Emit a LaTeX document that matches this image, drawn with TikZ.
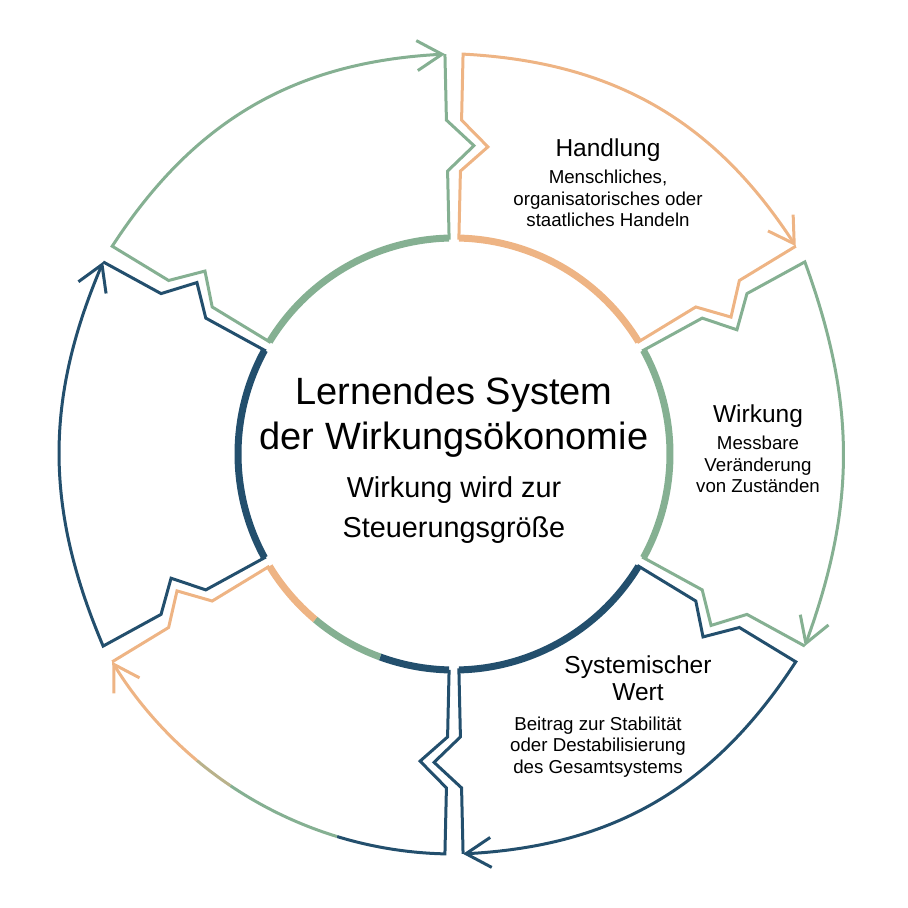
\documentclass[tikz,border=0pt]{standalone}
\usepackage{fontspec}
\setmainfont{Liberation Sans}
\usetikzlibrary{arrows.meta}
\definecolor{wgreen}{RGB}{133,176,146}
\definecolor{worange}{RGB}{238,180,132}
\definecolor{wblue}{RGB}{35,79,109}

\begin{document}
\begin{tikzpicture}[x=0.5pt,y=0.5pt,line join=miter,
  outline/.style={line width=1.5pt},
  ring/.style={line width=3.5pt},
  tip/.style={-{Straight Barb[length=12.5pt,width=15pt]}},
  headtext/.style={font=\fontsize{12.25}{13.5}\selectfont,align=center,anchor=base},
  desctext/.style={font=\fontsize{9.35}{10.75}\selectfont,align=center,anchor=base}]
\useasboundingbox (-454,-454) rectangle (454,454);
\def\rin{216}
\def\rout{400}
% radii of the notch in each cut
\def\ra{283}
\def\rb{309}
\def\rc{334}
\foreach \s/\e/\b/\col in {148.7/91.3/27/wgreen, 88.7/31.3/27/worange, 28.7/-28.7/20/wgreen, -31.3/-88.7/27/wblue, -151.3/-208.7/23/wblue} {
  \draw[outline,\col,tip] (\e:\rout) -- (\e:\rc) -- ({\e-5}:\rb) -- (\e:\ra) -- (\e:\rin)
    arc[start angle=\e,end angle=\s,radius=\rin] -- (\s:\ra) -- ({\s-5}:\rb) -- (\s:\rc) -- (\s:\rout)
    to[bend left=\b] (\e:\rout);
  \draw[ring,\col] (\s:\rin) arc[start angle=\s,end angle=\e,radius=\rin];
}
% lower left part, its colour changes along the way
\draw[outline,wblue] (-91.3:\rin) -- (-91.3:\ra) -- (-96.3:\rb) -- (-91.3:\rc) -- (-91.3:\rout)
  arc[start angle=-91.3,end angle=-107,radius=\rout];
\draw[outline,wgreen] (-107:\rout) arc[start angle=-107,end angle=-124,radius=\rout];
\draw[outline,wgreen!50!worange] (-124:\rout) arc[start angle=-124,end angle=-130,radius=\rout];
\draw[outline,worange,tip] (-130:\rout) arc[start angle=-130,end angle=-148.7,radius=\rout];
\draw[outline,worange] (-148.7:\rout) -- (-148.7:\rc) -- (-153.7:\rb) -- (-148.7:\ra) -- (-148.7:\rin);
\draw[ring,wblue] (-91.3:\rin) arc[start angle=-91.3,end angle=-110,radius=\rin];
\draw[ring,wgreen] (-110:\rin) arc[start angle=-110,end angle=-130,radius=\rin];
\draw[ring,worange] (-130:\rin) arc[start angle=-130,end angle=-148.7,radius=\rin];

\node[font=\fontsize{19}{22.5}\selectfont,align=center,anchor=base] (title) at (0,4) {Lernendes System\\der Wirkungsökonomie};
\node[font=\fontsize{14.4}{20}\selectfont,align=center,anchor=base] (motto) at (0,-84) {Wirkung wird zur\\Steuerungsgröße};

\node[headtext] (handlung) at (154,297) {Handlung};
\node[desctext] (handlungtext) at (154,227) {Menschliches,\\organisatorisches oder\\staatliches Handeln};
\node[headtext] (wirkung) at (304,31) {Wirkung};
\node[desctext] (wirkungtext) at (304,-39) {Messbare\\Veränderung\\von Zuständen};
\node[headtext] (wert) at (184,-246) {Systemischer\\Wert};
\node[desctext] (werttext) at (144,-319) {Beitrag zur Stabilität\\oder Destabilisierung\\des Gesamtsystems};
\end{tikzpicture}
\end{document}
